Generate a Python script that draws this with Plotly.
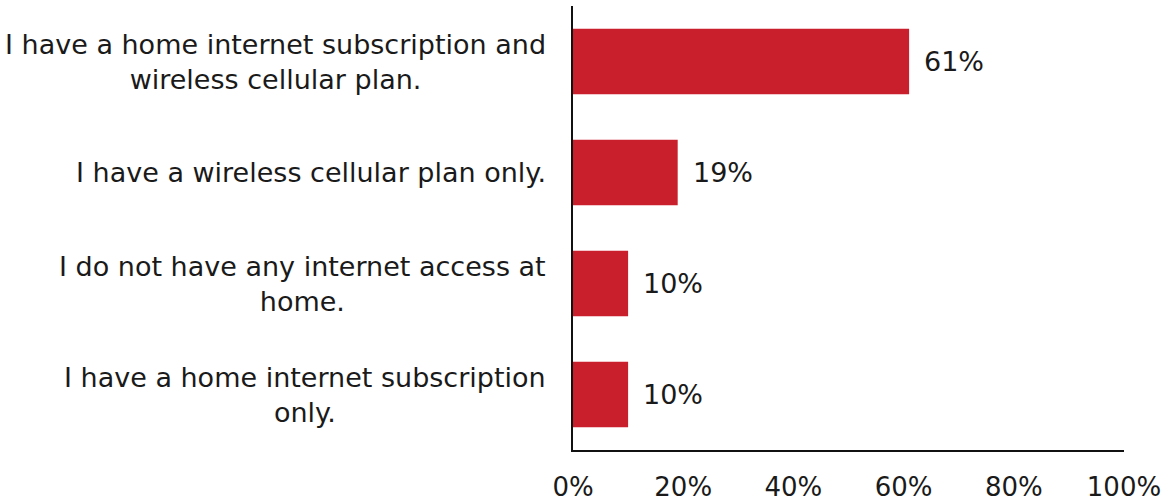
import plotly.graph_objects as go

categories = [
    "I have a home internet subscription and<br>wireless cellular plan.",
    "I have a wireless cellular plan only.",
    "I do not have any internet access at<br>home.",
    "I have a home internet subscription<br>only.",
]
values = [61, 19, 10, 10]
value_labels = ["61%", "19%", "10%", "10%"]
tick_vals = [0, 20, 40, 60, 80, 100]
tick_text = ["0%", "20%", "40%", "60%", "80%", "100%"]

BAR = "#C91F2D"
TXT = "#1a1a1a"
FONT = "DejaVu Sans, Liberation Sans, Arial, sans-serif"

fig = go.Figure()
fig.add_trace(go.Bar(
    x=values, y=categories, orientation="h",
    marker=dict(color=BAR, line=dict(width=0)),
    width=0.59, hoverinfo="skip",
))

annotations = []
for c, v, t in zip(categories, values, value_labels):
    annotations.append(dict(
        x=v, y=c, xref="x", yref="y", text=t, showarrow=False,
        xanchor="left", yanchor="middle", xshift=13,
        font=dict(family=FONT, size=27, color=TXT),
    ))
    annotations.append(dict(
        x=0, y=c, xref="paper", yref="y", text=c, showarrow=False,
        xanchor="right", yanchor="middle", xshift=-25, align="center",
        font=dict(family=FONT, size=27, color=TXT),
    ))

fig.update_layout(
    width=1170, height=504,
    margin=dict(l=573, r=46, t=6, b=54, autoexpand=False),
    paper_bgcolor="white", plot_bgcolor="white",
    showlegend=False,
    annotations=annotations,
    xaxis=dict(
        range=[0, 100], tickvals=tick_vals, ticktext=tick_text,
        showgrid=False, zeroline=False, automargin=False,
        showline=True, linecolor="#111", linewidth=2,
        ticks="outside", ticklen=13, tickcolor="rgba(0,0,0,0)",
        tickfont=dict(family=FONT, size=26, color=TXT),
    ),
    yaxis=dict(
        categoryorder="array", categoryarray=categories,
        autorange="reversed", showticklabels=False, automargin=False,
        showgrid=False, zeroline=False,
        showline=True, linecolor="#111", linewidth=2,
        ticks="",
    ),
)

fig.write_html("out.html", config={"displayModeBar": False},
               post_script="document.body.style.margin='0';")
